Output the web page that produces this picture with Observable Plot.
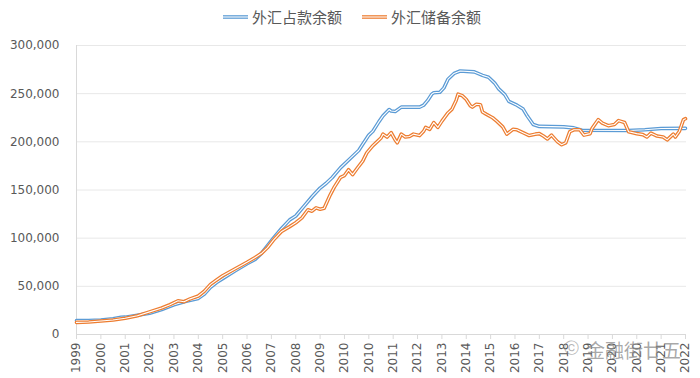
<!DOCTYPE html>
<html><head><meta charset="utf-8">
<script src="https://cdn.jsdelivr.net/npm/d3@7"></script>
<script src="https://cdn.jsdelivr.net/npm/@observablehq/plot@0.6"></script>
<style>
body{margin:0;background:#fff;}
#wrap{position:relative;width:700px;height:378px;overflow:hidden;background:#fff;font-family:"DejaVu Sans",sans-serif;}
#legend{position:relative;height:34px;}
.li{position:absolute;top:8px;display:flex;align-items:center;font-family:"Noto Sans CJK SC",sans-serif;font-size:15px;color:#595959;line-height:18px;}
.li svg{margin-right:4px;}
#wm{position:absolute;left:586px;top:336px;font-family:"Noto Sans CJK SC",sans-serif;font-size:19px;color:rgba(140,140,140,0.75);letter-spacing:0px;}
#wmi{position:absolute;left:564px;top:339px;font-size:15px;color:rgba(150,150,150,0.7);font-family:"DejaVu Sans",sans-serif;}
</style></head><body>
<div id="wrap">
<div id="legend"></div>
<div id="chart"></div>
<div id="wmi">ⓒ</div>
<div id="wm">金融街廿五</div>
</div>
<script>
const seriesNames = ["外汇占款余额", "外汇储备余额"];
const seriesColors = ["#5B9BD5", "#ED7D31"];
const yearLabels = ["1999","2000","2001","2002","2003","2004","2005","2006","2007","2008","2009","2010","2010","2011","2012","2013","2014","2015","2016","2017","2018","2019","2020","2020","2021","2022"];
const yTicks = [0, 50000, 100000, 150000, 200000, 250000, 300000];

const blueMonth = [0,6,12,18,22,24,30,36,42,48,54,60,63,66,69,72,78,84,88,91,94,97,101,105,108,112,116,120,123,126,130,135,139,141,144,146,149,151,154,155,157,160,169,171,173,175,176,179,181,183,186,189,196,200,203,206,208,211,213,217,220,222,225,228,240,245,249,272,280,288,300];
const blueValue = [14500,14600,15000,16300,17800,18000,20000,22000,26000,30800,34500,37500,42000,49000,54000,58000,66000,73500,78000,84000,92000,100000,110000,119000,123000,133000,143000,152000,157000,163000,173000,183000,191000,197500,207000,211000,221000,227000,233500,232000,231500,236000,236000,238000,243000,249500,251000,251500,256000,265000,271000,273500,272600,269000,267000,261000,255000,249000,242000,238000,234000,227000,218000,216000,215500,214500,212000,211800,212500,213900,214000];

const orangeMonth = [0,6,12,18,24,30,36,42,46,50,53,56,60,63,66,69,72,78,84,88,91,94,97,101,105,108,111,114,116,118,120,122,125,127,130,132,134,136,139,141,143,146,148,150,151,153,155,157,158,160,162,164,166,169,171,172,174,176,178,180,183,185,187,188,190,192,194,195,197,199,200,202,205,207,210,212,215,217,220,223,226,228,230,232,234,237,239,241,243,245,248,250,253,254,257,259,262,265,267,270,272,276,279,281,283,286,289,291,294,295,297,299,300];
const orangeValue = [12600,13000,14000,15000,16800,19500,23500,27500,31000,35000,34000,37000,40000,45000,52000,56500,61000,68000,75000,80000,84000,90000,98000,107000,112000,116000,121000,129500,128000,131500,130000,131000,145000,153000,163000,165000,171000,166000,174600,180000,188500,196000,200000,204000,208000,205000,209500,202000,199000,208000,205000,205500,208000,206500,211000,215000,213000,220000,215000,221500,230000,234000,243000,249500,248000,244000,237500,236000,239000,238500,231000,228500,225000,221500,215500,208000,213000,212500,209500,206500,208000,208500,206000,203000,207000,200000,197000,199000,210500,212500,212500,207000,208500,214000,223000,219500,216800,218000,222000,220000,210500,208500,207500,205000,209000,206000,205000,202000,208000,205000,211000,223000,224000];

const blue = blueMonth.map((m, i) => ({m, v: blueValue[i]}));
const orange = orangeMonth.map((m, i) => ({m, v: orangeValue[i]}));
const xTicks = yearLabels.map((_, i) => i * 12);

// legend
const leg = document.getElementById("legend");
const legX = [223, 362];
seriesNames.forEach((name, i) => {
  const d = document.createElement("div");
  d.className = "li";
  d.style.left = legX[i] + "px";
  d.innerHTML = `<svg width="25" height="6"><line x1="0" x2="25" y1="3" y2="3" stroke="${seriesColors[i]}" stroke-width="3.6"/><line x1="0" x2="25" y1="3" y2="3" stroke="#fff" stroke-width="1.1"/></svg><span>${name}</span>`;
  leg.appendChild(d);
});

const chart = Plot.plot({
  width: 700,
  height: 344,
  marginTop: 11,
  marginBottom: 44,
  marginLeft: 76,
  marginRight: 14,
  style: {fontFamily: "DejaVu Sans, sans-serif", fontSize: "12px", color: "#595959", background: "white"},
  x: {domain: [0, 300.5]},
  y: {domain: [0, 300000]},
  marks: [
    Plot.gridY(yTicks, {stroke: "#e8e8e8", strokeOpacity: 1, strokeWidth: 1}),
    Plot.ruleX([0], {stroke: "#d9d9d9"}),
    Plot.ruleY([0], {stroke: "#d9d9d9"}),
    Plot.axisY(yTicks, {tickSize: 0, tickPadding: 17, tickFormat: d3.format(","), fill: "#595959", label: null}),
    Plot.axisX(xTicks, {tickSize: 5, tickPadding: 3, tickRotate: -90, tickFormat: d => yearLabels[Math.round(d / 12)], stroke: "#d9d9d9", fill: "#595959", label: null}),
    Plot.line(blue, {x: "m", y: "v", stroke: seriesColors[0], strokeWidth: 3.6}),
    Plot.line(blue, {x: "m", y: "v", stroke: "#fff", strokeWidth: 1.1}),
    Plot.line(orange, {x: "m", y: "v", stroke: seriesColors[1], strokeWidth: 3.6}),
    Plot.line(orange, {x: "m", y: "v", stroke: "#fff", strokeWidth: 1.1})
  ]
});
document.getElementById("chart").appendChild(chart);
</script>
</body></html>
